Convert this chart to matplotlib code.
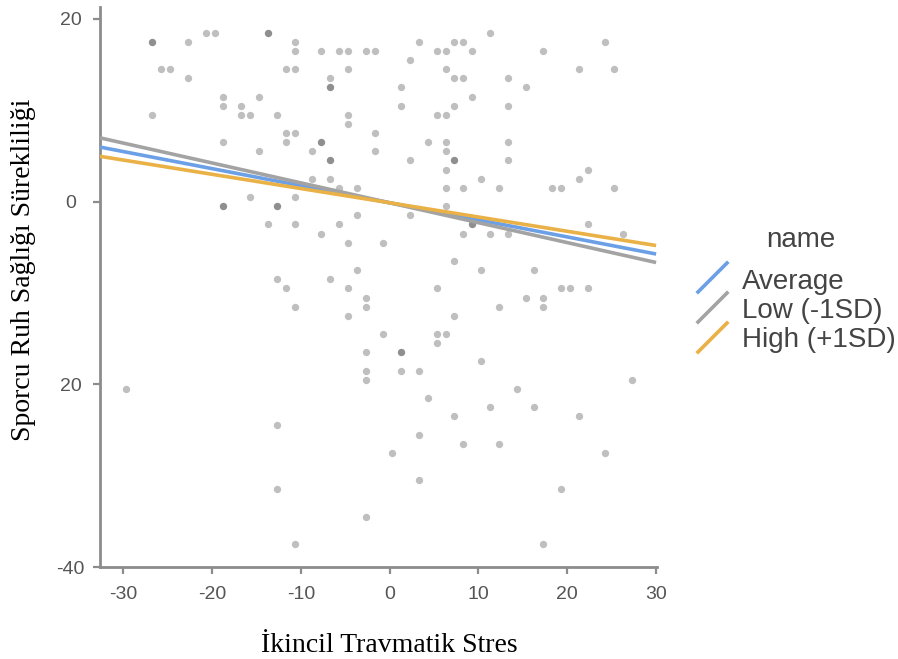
import numpy as np
import matplotlib
matplotlib.use("Agg")
from matplotlib import pyplot as plt
from matplotlib.lines import Line2D

# centred scores (duplicates = darker dots)
stress = [
    -20.7, -19.7, -13.7, -13.7,
    -26.7, -26.7, -22.7, -10.7,
    -10.7, -7.7, -5.7, -4.7, -2.7, -1.7,
    -25.7, -24.7, -11.7, -10.7, -4.7,
    -22.7, -6.7,
    -6.7, -6.7,
    -18.7, -14.7,
    -18.7, -16.7,
    -26.7, -16.7, -15.7, -12.7, -4.7,
    -4.7,
    -11.7, -10.7, -1.7,
    -18.7, -11.7, -7.7, -7.7,
    -14.7, -8.7, -1.7,
    -6.7, -6.7,
    -8.7, -6.7,
    -5.7, -3.7,
    -15.7, -10.7,
    -18.7, -18.7, -12.7, -12.7,
    -3.7,
    -13.7, -10.7, -5.7,
    -7.7,
    -4.7, -0.7,
    -3.7,
    -12.7, -6.7,
    -11.7, -4.7,
    -2.7,
    -10.7, -2.7,
    -4.7,
    11.3,
    3.3, 7.3, 8.3, 24.3,
    5.3, 6.3, 9.3, 17.3,
    2.3,
    6.3, 21.3, 25.3,
    7.3, 8.3, 13.3,
    1.3, 15.3,
    9.3,
    1.3, 7.3, 13.3,
    5.3, 6.3,
    4.3, 6.3, 13.3,
    6.3,
    2.3, 7.3, 7.3, 13.3,
    6.3, 22.3,
    10.3, 21.3,
    6.3, 8.3, 12.3, 18.3, 19.3, 25.3,
    6.3,
    2.3,
    9.3, 9.3, 22.3,
    8.3, 11.3, 13.3, 26.3,
    7.3,
    10.3, 16.3,
    5.3, 19.3, 20.3, 22.3,
    15.3, 17.3,
    12.3, 17.3,
    7.3,
    -0.7, 5.3, 6.3, 5.3, -2.7, 1.3, 1.3, 10.3, -2.7, 1.3, 3.3, -2.7, 27.3,
    -29.7, 14.3, 4.3, 11.3, 16.3, 7.3, 21.3, -12.7, 3.3, 8.3, 12.3, 0.3,
    24.3, 3.3, -12.7, 19.3, -2.7, -10.7, 17.3,
]
resilience = [
    18.5, 18.5, 18.5, 18.5,
    17.5, 17.5, 17.5, 17.5,
    16.5, 16.5, 16.5, 16.5, 16.5, 16.5,
    14.5, 14.5, 14.5, 14.5, 14.5,
    13.5, 13.5,
    12.5, 12.5,
    11.5, 11.5,
    10.5, 10.5,
    9.5, 9.5, 9.5, 9.5, 9.5,
    8.5,
    7.5, 7.5, 7.5,
    6.5, 6.5, 6.5, 6.5,
    5.5, 5.5, 5.5,
    4.5, 4.5,
    2.5, 2.5,
    1.5, 1.5,
    0.5, 0.5,
    -0.5, -0.5, -0.5, -0.5,
    -1.5,
    -2.5, -2.5, -2.5,
    -3.5,
    -4.5, -4.5,
    -7.5,
    -8.5, -8.5,
    -9.5, -9.5,
    -10.5,
    -11.5, -11.5,
    -12.5,
    18.5,
    17.5, 17.5, 17.5, 17.5,
    16.5, 16.5, 16.5, 16.5,
    15.5,
    14.5, 14.5, 14.5,
    13.5, 13.5, 13.5,
    12.5, 12.5,
    11.5,
    10.5, 10.5, 10.5,
    9.5, 9.5,
    6.5, 6.5, 6.5,
    5.5,
    4.5, 4.5, 4.5, 4.5,
    3.5, 3.5,
    2.5, 2.5,
    1.5, 1.5, 1.5, 1.5, 1.5, 1.5,
    -0.5,
    -1.5,
    -2.5, -2.5, -2.5,
    -3.5, -3.5, -3.5, -3.5,
    -6.5,
    -7.5, -7.5,
    -9.5, -9.5, -9.5, -9.5,
    -10.5, -10.5,
    -11.5, -11.5,
    -12.5,
    -14.5, -14.5, -14.5, -15.5, -16.5, -16.5, -16.5, -17.5, -18.5, -18.5, -18.5, -19.5, -19.5,
    -20.5, -20.5, -21.5, -22.5, -22.5, -23.5, -23.5, -24.5, -25.5, -26.5, -26.5, -27.5,
    -27.5, -30.5, -31.5, -31.5, -34.5, -37.5, -37.5,
]

# simple slopes
names = ["Average", "Low (-1SD)", "High (+1SD)"]
slopes = [-0.187, -0.218, -0.156]
intercepts = [-0.13, -0.13, -0.13]
colors = ["#6b9fe6", "#a3a3a3", "#e9b146"]

xticks = [-30, -20, -10, 0, 10, 20, 30]
yticks = [-40, -20, 0, 20]
ytick_labels = ["-40", "20", "0", "20"]

W, H = 898, 659
fig = plt.figure(figsize=(W / 100, H / 100), dpi=100)
ax = fig.add_axes([100 / W, 1 - 567 / H, 557 / W, 560 / H])
ax.set_xlim(-32.6, 30.1)
ax.set_ylim(-40, 21.3)

ax.scatter(stress, resilience, s=28, c="black", alpha=0.25, linewidths=0, zorder=2)

xs = np.array([-32.6, 30.0])
for nm, b, a, col in zip(names, slopes, intercepts, colors):
    ax.plot(xs, a + b * xs, color=col, lw=2.6, solid_capstyle="butt", zorder=3)

for s in ["top", "right"]:
    ax.spines[s].set_visible(False)
for s in ["left", "bottom"]:
    ax.spines[s].set_color("#8c8c8c")
    ax.spines[s].set_linewidth(2.0)

ax.set_xticks(xticks)
ax.set_xticklabels([str(t) for t in xticks])
ax.set_yticks(yticks)
ax.set_yticklabels(ytick_labels)
ax.tick_params(axis="both", direction="out", length=5, width=1.6, color="#8c8c8c",
               labelsize=14, labelcolor="#555555")
ax.tick_params(axis="x", pad=9)
ax.tick_params(axis="y", pad=16.2)
for lab in ax.get_xticklabels() + ax.get_yticklabels():
    lab.set_family("Liberation Sans")
for lab in ax.get_yticklabels():
    lab.set_horizontalalignment("center")

# axis titles
fig.text(389 / W, 1 - 652 / H, "İkincil Travmatik Stres", ha="center", va="baseline",
         family="Liberation Serif", size=20, color="black")
fig.text(24 / W, 1 - 270 / H, "Sporcu Ruh Sağlığı Sürekliliği", ha="center", va="center",
         rotation=90, family="Liberation Serif", size=20, color="black")

# legend with diagonal keys
fig.text(801 / W, 1 - 247 / H, "name", ha="center", va="baseline",
         family="Liberation Sans", size=20, color="#444444")
for i, (nm, col) in enumerate(zip(names, colors)):
    yb = 289 + i * 29
    yc = 277.5 + i * 30
    fig.add_artist(Line2D([698 / W, 727 / W], [1 - (yc + 14.5) / H, 1 - (yc - 14.5) / H],
                          color=col, lw=2.6, transform=fig.transFigure))
    fig.text(742 / W, 1 - yb / H, nm, ha="left", va="baseline",
             family="Liberation Sans", size=20, color="#444444")

fig.savefig("out.png", dpi=100)
